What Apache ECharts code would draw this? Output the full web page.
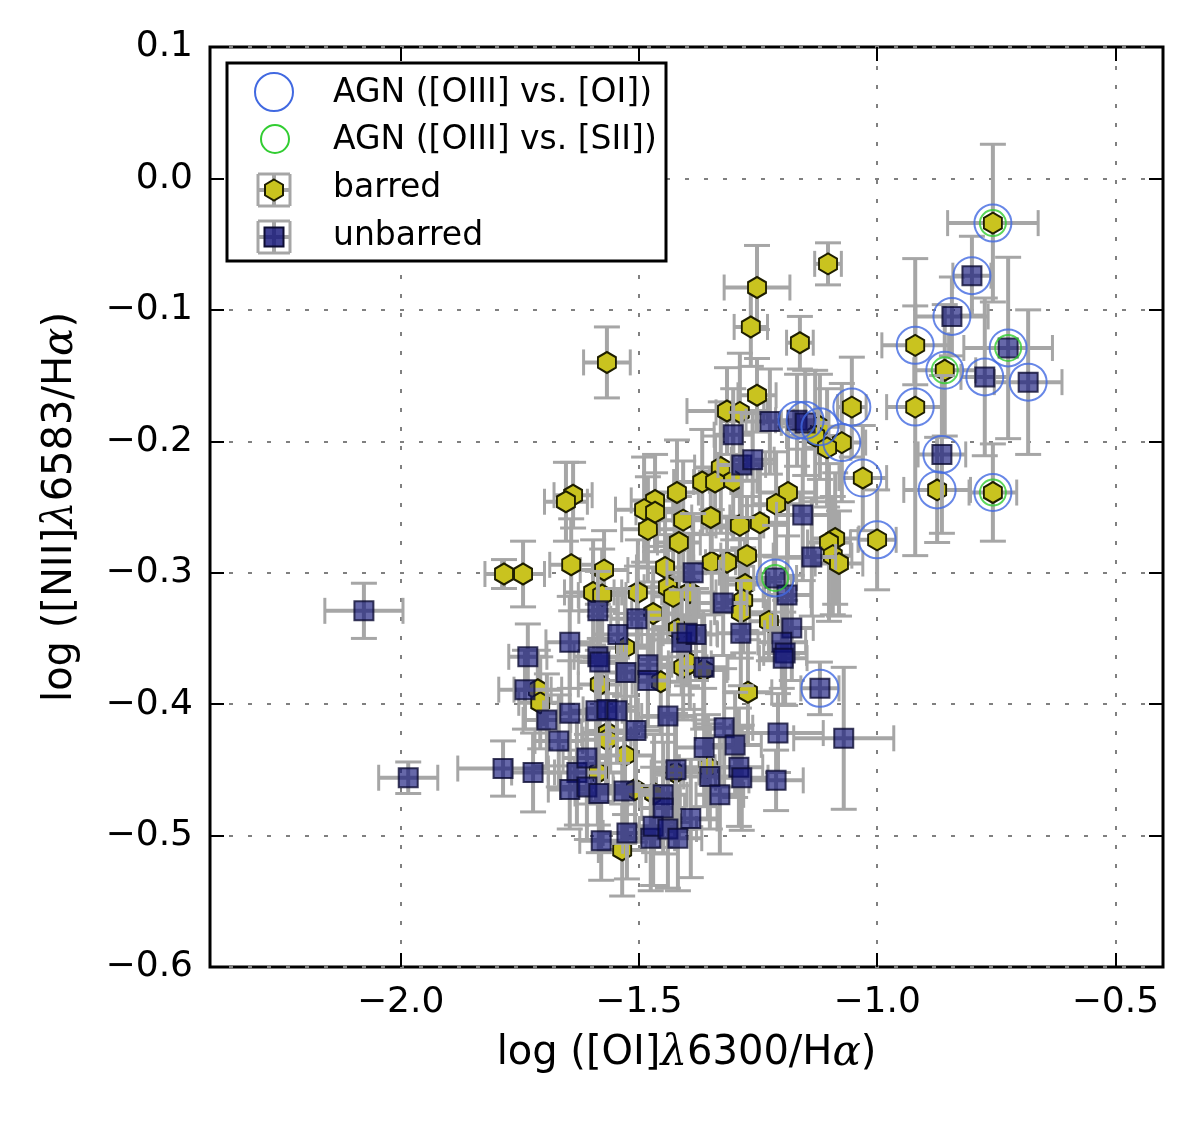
<!DOCTYPE html>
<html><head><meta charset="utf-8">
<script src="https://cdn.jsdelivr.net/npm/echarts@6/dist/echarts.min.js"></script>
<style>html,body{margin:0;padding:0;background:#fff}#c{width:1200px;height:1122px}</style>
</head><body><div id="c"></div>
<script>
// ---- data ----
const xTicks = [-2.0, -1.5, -1.0, -0.5];
const yTicks = [-0.6, -0.5, -0.4, -0.3, -0.2, -0.1, 0.0, 0.1];
// [log OI/Ha, log NII/Ha, xerr, yerr]
const barred = [
[-0.757,-0.034,0.095,0.060],[-0.920,-0.127,0.070,0.030],[-0.858,-0.146,0.065,0.050],[-0.920,-0.174,0.060,0.113],
[-0.874,-0.237,0.070,0.040],[-0.757,-0.239,0.050,0.037],[-1.030,-0.228,0.050,0.040],[-1.000,-0.275,0.040,0.038],
[-1.053,-0.174,0.030,0.038],[-1.074,-0.201,0.050,0.045],[-1.120,-0.189,0.045,0.040],[-1.130,-0.196,0.060,0.050],
[-1.105,-0.205,0.050,0.045],[-1.103,-0.065,0.028,0.016],[-1.252,-0.083,0.069,0.032],[-1.265,-0.113,0.035,0.030],
[-1.162,-0.125,0.028,0.020],[-1.567,-0.140,0.049,0.027],[-1.252,-0.165,0.040,0.028],[-1.315,-0.177,0.084,0.033],
[-1.288,-0.178,0.050,0.045],[-1.088,-0.274,0.050,0.050],[-1.101,-0.277,0.045,0.060],[-1.093,-0.287,0.040,0.045],
[-1.080,-0.293,0.050,0.040],[-1.187,-0.239,0.060,0.050],[-1.212,-0.248,0.050,0.040],[-1.246,-0.262,0.060,0.045],
[-1.288,-0.264,0.050,0.040],[-1.273,-0.287,0.055,0.045],[-1.277,-0.309,0.050,0.035],[-1.281,-0.321,0.045,0.040],
[-1.286,-0.330,0.055,0.035],[-1.227,-0.337,0.040,0.030],[-1.271,-0.391,0.050,0.040],[-1.328,-0.220,0.055,0.050],
[-1.367,-0.231,0.060,0.040],[-1.340,-0.231,0.045,0.035],[-1.302,-0.230,0.050,0.045],[-1.638,-0.241,0.040,0.025],
[-1.653,-0.246,0.045,0.030],[-1.420,-0.239,0.045,0.040],[-1.466,-0.245,0.050,0.035],[-1.489,-0.252,0.060,0.040],
[-1.466,-0.254,0.040,0.030],[-1.407,-0.260,0.050,0.045],[-1.349,-0.258,0.040,0.035],[-1.481,-0.267,0.055,0.040],
[-1.416,-0.277,0.045,0.035],[-1.642,-0.294,0.045,0.035],[-1.573,-0.298,0.050,0.030],[-1.783,-0.301,0.040,0.011],
[-1.743,-0.301,0.045,0.025],[-1.347,-0.292,0.050,0.040],[-1.315,-0.292,0.045,0.035],[-1.445,-0.296,0.060,0.045],
[-1.439,-0.311,0.050,0.040],[-1.428,-0.318,0.045,0.035],[-1.393,-0.315,0.055,0.045],[-1.596,-0.315,0.060,0.040],
[-1.577,-0.317,0.050,0.035],[-1.502,-0.315,0.050,0.040],[-1.470,-0.331,0.045,0.035],[-1.418,-0.343,0.050,0.040],
[-1.529,-0.357,0.055,0.045],[-1.407,-0.372,0.050,0.040],[-1.393,-0.369,0.045,0.035],[-1.365,-0.374,0.050,0.045],
[-1.454,-0.383,0.060,0.040],[-1.582,-0.385,0.045,0.035],[-1.712,-0.389,0.050,0.030],[-1.707,-0.399,0.045,0.035],
[-1.565,-0.422,0.055,0.040],[-1.567,-0.427,0.050,0.035],[-1.529,-0.439,0.060,0.045],[-1.586,-0.452,0.050,0.040],
[-1.508,-0.465,0.045,0.040],[-1.468,-0.468,0.055,0.045],[-1.355,-0.448,0.060,0.040],[-1.424,-0.452,0.050,0.045],
[-1.535,-0.511,0.050,0.035]
];
const unbarred = [
[-2.077,-0.329,0.082,0.021],[-1.984,-0.456,0.062,0.012],[-1.785,-0.449,0.095,0.021],[-1.733,-0.364,0.040,0.025],
[-1.739,-0.389,0.055,0.030],[-1.693,-0.412,0.050,0.035],[-1.722,-0.452,0.045,0.030],[-1.645,-0.353,0.050,0.035],
[-1.645,-0.407,0.055,0.040],[-1.668,-0.428,0.050,0.035],[-1.630,-0.452,0.060,0.040],[-1.609,-0.441,0.050,0.035],
[-1.645,-0.465,0.045,0.030],[-1.609,-0.463,0.055,0.040],[-1.584,-0.468,0.050,0.045],[-1.579,-0.504,0.045,0.030],
[-1.586,-0.329,0.040,0.030],[-1.586,-0.364,0.050,0.040],[-1.582,-0.368,0.045,0.035],[-1.590,-0.405,0.055,0.040],
[-1.567,-0.404,0.050,0.035],[-1.546,-0.405,0.045,0.040],[-1.544,-0.347,0.050,0.035],[-1.504,-0.335,0.055,0.040],
[-1.527,-0.376,0.050,0.045],[-1.531,-0.466,0.060,0.040],[-1.525,-0.498,0.050,0.035],[-1.506,-0.420,0.055,0.045],
[-1.481,-0.370,0.050,0.040],[-1.481,-0.382,0.045,0.035],[-1.475,-0.502,0.050,0.040],[-1.470,-0.493,0.055,0.045],
[-1.449,-0.469,0.050,0.040],[-1.449,-0.479,0.045,0.035],[-1.439,-0.495,0.060,0.045],[-1.418,-0.502,0.050,0.040],
[-1.439,-0.409,0.055,0.045],[-1.422,-0.450,0.050,0.040],[-1.391,-0.487,0.055,0.045],[-1.410,-0.353,0.050,0.040],
[-1.380,-0.347,0.045,0.035],[-1.399,-0.346,0.050,0.040],[-1.386,-0.300,0.055,0.045],[-1.363,-0.372,0.050,0.040],
[-1.363,-0.433,0.060,0.045],[-1.351,-0.455,0.055,0.040],[-1.330,-0.469,0.050,0.045],[-1.323,-0.323,0.050,0.040],
[-1.321,-0.418,0.060,0.045],[-1.298,-0.431,0.055,0.040],[-1.290,-0.448,0.050,0.045],[-1.284,-0.456,0.055,0.040],
[-1.286,-0.346,0.050,0.040],[-1.302,-0.195,0.040,0.035],[-1.284,-0.218,0.050,0.040],[-1.261,-0.214,0.045,0.035],
[-1.225,-0.185,0.050,0.040],[-1.168,-0.184,0.045,0.035],[-1.151,-0.186,0.050,0.040],[-1.156,-0.256,0.055,0.050],
[-1.137,-0.288,0.050,0.045],[-1.214,-0.304,0.045,0.040],[-1.189,-0.317,0.050,0.045],[-1.179,-0.342,0.045,0.040],
[-1.200,-0.353,0.050,0.035],[-1.193,-0.361,0.045,0.040],[-1.197,-0.365,0.050,0.035],[-1.120,-0.388,0.040,0.020],
[-1.208,-0.422,0.095,0.030],[-1.070,-0.426,0.105,0.054],[-1.212,-0.458,0.057,0.023],[-0.864,-0.210,0.050,0.060],
[-0.801,-0.074,0.040,0.030],[-0.843,-0.105,0.076,0.030],[-0.725,-0.129,0.093,0.069],[-0.774,-0.151,0.050,0.060],
[-0.683,-0.155,0.071,0.055]
];
const agnOI = [
[-0.757,-0.034],[-0.801,-0.074],[-0.843,-0.105],[-0.920,-0.127],[-0.725,-0.129],[-0.858,-0.146],[-0.774,-0.151],
[-0.683,-0.155],[-0.920,-0.174],[-0.864,-0.210],[-0.874,-0.237],[-0.757,-0.239],[-1.030,-0.228],[-1.000,-0.275],
[-1.053,-0.174],[-1.074,-0.201],[-1.120,-0.189],[-1.168,-0.184],[-1.151,-0.184],[-1.214,-0.304],[-1.120,-0.388]
];
const agnSII = [[-0.757,-0.034],[-0.725,-0.129],[-0.858,-0.146],[-0.757,-0.239],[-1.214,-0.304]];

// ---- styles ----
const ERR = '#a6a6a6';
const HEX = 'path://M0,-10L8.66,-5L8.66,5L0,10L-8.66,5L-8.66,-5Z';
const FONT = '"DejaVu Sans", "Bitstream Vera Sans", sans-serif';
const minus = s => s.replace('-', '\u2212');

function errRender(params, api) {
  const x = api.value(0), y = api.value(1), ex = api.value(2), ey = api.value(3);
  const l = api.coord([x - ex, y]), r = api.coord([x + ex, y]);
  const t = api.coord([x, y + ey]), b = api.coord([x, y - ey]);
  const c = 13;
  const st = {stroke: ERR, lineWidth: 4};
  const sc = {stroke: ERR, lineWidth: 3};
  return {type: 'group', children: [
    {type: 'line', shape: {x1: l[0], y1: l[1], x2: r[0], y2: r[1]}, style: st},
    {type: 'line', shape: {x1: t[0], y1: t[1], x2: b[0], y2: b[1]}, style: st},
    {type: 'line', shape: {x1: l[0], y1: l[1] - c, x2: l[0], y2: l[1] + c}, style: sc},
    {type: 'line', shape: {x1: r[0], y1: r[1] - c, x2: r[0], y2: r[1] + c}, style: sc},
    {type: 'line', shape: {x1: t[0] - c, y1: t[1], x2: t[0] + c, y2: t[1]}, style: sc},
    {type: 'line', shape: {x1: b[0] - c, y1: b[1], x2: b[0] + c, y2: b[1]}, style: sc}
  ]};
}

const chart = echarts.init(document.getElementById('c'), null, {renderer: 'canvas'});
const tickCommon = {inside: true, length: 14, lineStyle: {color: '#000', width: 2}};
const gridLine = {show: true, lineStyle: {color: '#808080', width: 2, type: [4, 15]}};
const noLine = {show: false, onZero: false};

function legendIcon(cx, cy, marker) {
  const h = 16, c = 16;
  const st = {stroke: ERR, lineWidth: 4};
  const sc = {stroke: ERR, lineWidth: 3};
  return [
    {type: 'line', shape: {x1: cx - h, y1: cy, x2: cx + h, y2: cy}, style: st, z: 101},
    {type: 'line', shape: {x1: cx, y1: cy - h, x2: cx, y2: cy + h}, style: st, z: 101},
    {type: 'line', shape: {x1: cx - h, y1: cy - c, x2: cx - h, y2: cy + c}, style: sc, z: 101},
    {type: 'line', shape: {x1: cx + h, y1: cy - c, x2: cx + h, y2: cy + c}, style: sc, z: 101},
    {type: 'line', shape: {x1: cx - c, y1: cy - h, x2: cx + c, y2: cy - h}, style: sc, z: 101},
    {type: 'line', shape: {x1: cx - c, y1: cy + h, x2: cx + c, y2: cy + h}, style: sc, z: 101},
    marker
  ];
}

const nameStyle = {color: '#000', fontSize: 40, fontFamily: FONT,
  rich: {g: {fontSize: 42, fontStyle: 'italic', fontFamily: '"DejaVu Serif", serif', color: '#000'}}};

const option = {
  backgroundColor: '#fff',
  animation: false,
  grid: {left: 210, top: 47, width: 953, height: 920, show: true, borderColor: '#000', borderWidth: 3, backgroundColor: 'transparent'},
  xAxis: [
    {type: 'value', min: -2.4, max: -0.4, position: 'bottom',
     axisLine: noLine,
     axisTick: Object.assign({customValues: xTicks}, tickCommon),
     axisLabel: {customValues: xTicks, formatter: v => minus(v.toFixed(1)), color: '#000', fontSize: 36, fontFamily: FONT, margin: 18},
     splitLine: gridLine,
     name: 'log ([OI]{g|λ}6300/H{g|α})', nameLocation: 'middle', nameGap: 66, nameTextStyle: nameStyle
    },
    {type: 'value', min: -2.4, max: -0.4, position: 'top',
     axisLine: noLine,
     axisTick: Object.assign({customValues: xTicks}, tickCommon),
     axisLabel: {show: false}, splitLine: {show: false}}
  ],
  yAxis: [
    {type: 'value', min: -0.6, max: 0.1, interval: 0.1, position: 'left',
     axisLine: noLine,
     axisTick: tickCommon,
     axisLabel: {formatter: v => Math.abs(v) < 1e-9 ? '0.0' : minus(v.toFixed(1)), color: '#000', fontSize: 36, fontFamily: FONT, margin: 17},
     splitLine: gridLine,
     name: 'log ([NII]{g|λ}6583/H{g|α})', nameLocation: 'middle', nameGap: 128, nameRotate: 90, nameTextStyle: nameStyle
    },
    {type: 'value', min: -0.6, max: 0.1, interval: 0.1, position: 'right',
     axisLine: noLine, axisTick: tickCommon, axisLabel: {show: false}, splitLine: {show: false}}
  ],
  series: [
    {name: 'barred-err', type: 'custom', renderItem: errRender, data: barred, encode: {x: 0, y: 1}, z: 2, silent: true, clip: true},
    {name: 'barred', type: 'scatter', data: barred.map(d => [d[0], d[1]]), symbol: HEX, symbolSize: [18, 21], z: 3,
     itemStyle: {color: '#c9c31f', borderColor: '#1e1e00', borderWidth: 2, opacity: 1}},
    {name: 'unbarred-err', type: 'custom', renderItem: errRender, data: unbarred, encode: {x: 0, y: 1}, z: 4, silent: true, clip: true},
    {name: 'unbarred', type: 'scatter', data: unbarred.map(d => [d[0], d[1]]), symbol: 'rect', symbolSize: 19, z: 5,
     itemStyle: {color: 'rgba(16,18,120,0.8)', borderColor: '#0d0d33', borderWidth: 2}},
    {name: 'AGN ([OIII] vs. [OI])', type: 'scatter', data: agnOI, symbol: 'circle', symbolSize: 37, z: 6,
     itemStyle: {color: 'rgba(0,0,0,0)', borderColor: '#4169e1', borderWidth: 2}},
    {name: 'AGN ([OIII] vs. [SII])', type: 'scatter', data: agnSII, symbol: 'circle', symbolSize: 26, z: 7,
     itemStyle: {color: 'rgba(0,0,0,0)', borderColor: '#32cd32', borderWidth: 2}}
  ],
  graphic: [].concat(
    [{type: 'rect', shape: {x: 227, y: 63, width: 439, height: 198}, style: {fill: '#fff', stroke: '#000', lineWidth: 3}, z: 100},
     {type: 'circle', shape: {cx: 274, cy: 92, r: 19}, style: {fill: 'none', stroke: '#4169e1', lineWidth: 2}, z: 101},
     {type: 'text', x: 333, y: 93, style: {text: 'AGN ([OIII] vs. [OI])', font: '33px ' + FONT, fill: '#000', verticalAlign: 'middle'}, z: 101},
     {type: 'circle', shape: {cx: 275, cy: 139, r: 14}, style: {fill: 'none', stroke: '#32cd32', lineWidth: 2}, z: 101},
     {type: 'text', x: 333, y: 140, style: {text: 'AGN ([OIII] vs. [SII])', font: '33px ' + FONT, fill: '#000', verticalAlign: 'middle'}, z: 101},
     {type: 'text', x: 333, y: 188, style: {text: 'barred', font: '33px ' + FONT, fill: '#000', verticalAlign: 'middle'}, z: 101},
     {type: 'text', x: 333, y: 236, style: {text: 'unbarred', font: '33px ' + FONT, fill: '#000', verticalAlign: 'middle'}, z: 101}],
    legendIcon(274, 190, {type: 'polygon', shape: {points: [[274,179.5],[283,184.75],[283,195.25],[274,200.5],[265,195.25],[265,184.75]]},
      style: {fill: '#c9c31f', stroke: '#1e1e00', lineWidth: 2}, z: 102}),
    legendIcon(274, 237, {type: 'rect', shape: {x: 264.5, y: 227.5, width: 19, height: 19},
      style: {fill: 'rgba(16,18,120,0.8)', stroke: '#0d0d33', lineWidth: 2}, z: 102})
  )
};
chart.setOption(option);
</script>
</body></html>
